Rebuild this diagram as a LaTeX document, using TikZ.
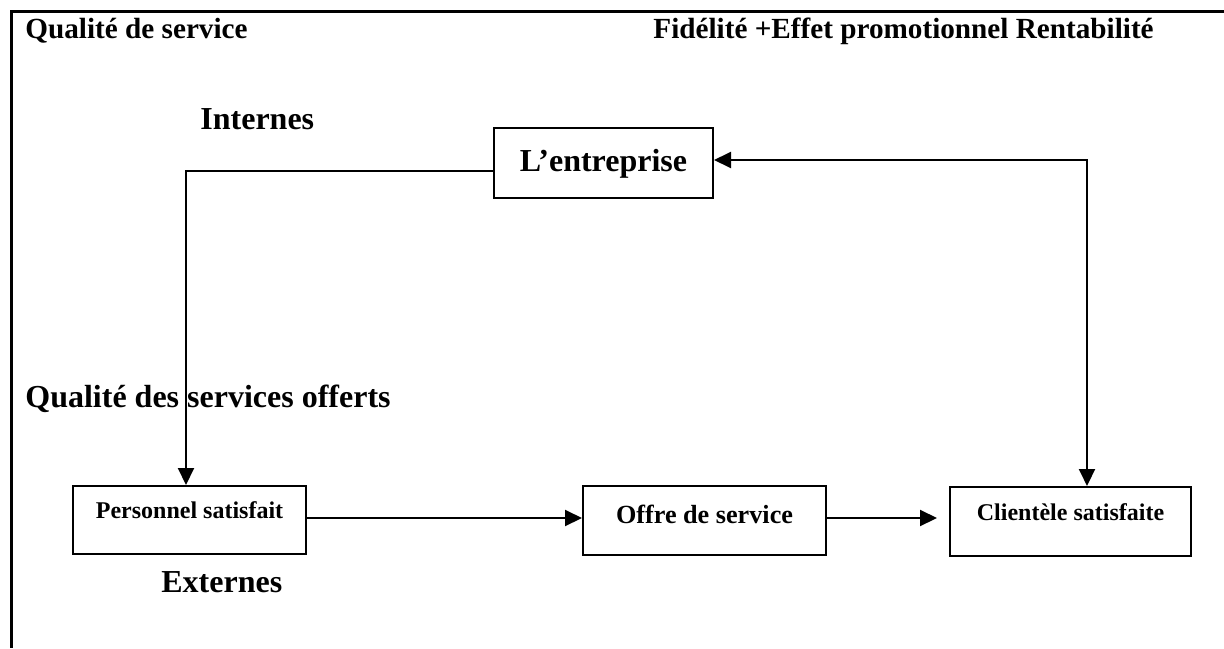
\documentclass[tikz,border=0pt]{standalone}
\usepackage{fontspec}
\setmainfont{Liberation Serif}
\usetikzlibrary{arrows.meta}
\begin{document}
\begin{tikzpicture}[x=0.5pt,y=-0.5pt,
  box/.style={draw,line width=1pt,inner xsep=0pt,inner ysep=0pt,anchor=north},
  conn/.style={line width=1pt,-{Triangle[length=8.5pt,width=8pt]}},
  conntwo/.style={line width=1pt,{Triangle[length=8.5pt,width=8pt]}-{Triangle[length=8.5pt,width=8pt]}},
  big/.style={font=\bfseries\fontsize{16}{19}\selectfont},
  head/.style={font=\bfseries\fontsize{14.6}{17}\selectfont},
  lab/.style={inner sep=0pt,anchor=base west}
]
\useasboundingbox (0,0) rectangle (1224,648);
\fill[white] (0,0) rectangle (1224,648);

% page frame (top and left edges)
\draw[line width=1.5pt] (1224,11) -- (11,11) -- (11,648);

% headings
\node[lab,head] (qs) at (25,39) {Qualité de service};
\node[lab,head] (fid) at (653,39) {Fidélité +Effet promotionnel Rentabilité};
\node[lab,big] (int) at (200,129) {Internes};
\node[lab,big] (qso) at (25,407) {Qualité des services offerts};
\node[lab,big] (ext) at (161,592) {Externes};

% boxes
\node[box,big,minimum width=109.5pt,text height=21.5pt,text depth=13.5pt] (ent) at (603.5,127) {L’entreprise};
\node[box,font=\bfseries\fontsize{12}{14}\selectfont,minimum width=116.5pt,text height=16pt,text depth=18pt] (pers) at (189.5,485) {Personnel satisfait};
\node[box,font=\bfseries\fontsize{13.1}{15}\selectfont,minimum width=121.5pt,text height=18.5pt,text depth=16pt] (offre) at (704.5,485) {Offre de service};
\node[box,font=\bfseries\fontsize{12}{14}\selectfont,minimum width=120.5pt,text height=16.5pt,text depth=18pt] (client) at (1070.5,486) {Clientèle satisfaite};

% connectors
\draw[conn] ([yshift=-4pt]ent.west) -| ([xshift=-1.75pt]pers.north);
\draw[conn] ([yshift=1pt]pers.east) -- ([yshift=1.25pt]offre.west);
\draw[conn] ([yshift=1.25pt]offre.east) -- ([xshift=-6pt,yshift=1.75pt]client.west);
\draw[conntwo] ([yshift=1.5pt]ent.east) -| ([xshift=8.25pt]client.north);
\end{tikzpicture}
\end{document}
